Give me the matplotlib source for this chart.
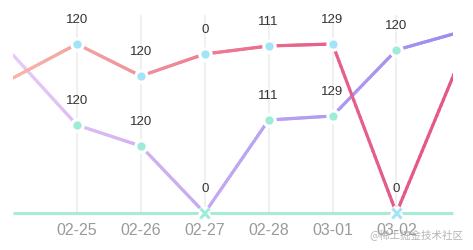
import numpy as np
import matplotlib
matplotlib.use("Agg")
import matplotlib.pyplot as plt
from matplotlib.collections import LineCollection
from matplotlib.colors import LinearSegmentedColormap
import matplotlib.patheffects as pe

# ---- data ----
categories = ["02-24", "02-25", "02-26", "02-27", "02-28", "03-01", "03-02", "03-03"]
pink_values = [135, 169, 137, 159, 167, 169, 0, 154]
purple_values = [158, 88, 67, 0, 93, 97, 163, 181]
pink_labels = [None, "120", "120", "0", "111", "129", "0", None]
purple_labels = [None, "120", "120", "0", "111", "129", "120", None]
shown_ticks = [1, 2, 3, 4, 5, 6]

W, H = 473, 250
fig = plt.figure(figsize=(W / 100, H / 100), dpi=100)
x0, x1 = 13, 453
ybot, ytop = 213, 15
ax = fig.add_axes([x0 / W, 1 - ybot / H, (x1 - x0) / W, (ybot - ytop) / H])
step = 63.9
ax.set_xlim(0, (x1 - x0) / step)
ax.set_ylim(0, 198)
for s in ax.spines.values():
    s.set_visible(False)
ax.set_yticks([])

xs = np.arange(len(categories))

# vertical grid lines
for i in shown_ticks:
    ax.plot([i, i], [0, 198], color="#eceeee", lw=1.2, zorder=0)

# axis line
ax.plot([0, (x1 - x0) / step], [0, 0], color="#a8ecd8", lw=2.2, zorder=1,
        solid_capstyle="butt", clip_on=False)


def grad_line(xv, yv, stops, z):
    cmap = LinearSegmentedColormap.from_list(
        "g", [((p - 0) / 7.0, c) for p, c in stops])
    segs = []
    cols = []
    for k in range(len(xv) - 1):
        n = 30
        tx = np.linspace(xv[k], xv[k + 1], n + 1)
        ty = np.linspace(yv[k], yv[k + 1], n + 1)
        for j in range(n):
            segs.append([(tx[j], ty[j]), (tx[j + 1], ty[j + 1])])
            cols.append(cmap(((tx[j] + tx[j + 1]) / 2) / 7.0))
    lc = LineCollection(segs, colors=cols, linewidths=2.3, zorder=z,
                        capstyle="round")
    ax.add_collection(lc)


purple_stops = [(0, "#e8caf6"), (2, "#d2b2f3"), (4, "#b8a2f2"), (7, "#9c8cf0")]
pink_stops = [(0, "#f8b6a8"), (3, "#ee7f95"), (4.5, "#e7638a"), (7, "#e4568a")]

grad_line(xs, purple_values, purple_stops, 2)
grad_line(xs, pink_values, pink_stops, 3)

white = [pe.withStroke(linewidth=5.5, foreground="white")]


def markers(vals, color, z):
    for i in range(1, 7):
        v = vals[i]
        if v == 0:
            ax.plot(i, v, marker="x", ms=6.5, mew=2.2, color=color, zorder=z,
                    path_effects=white, clip_on=False)
        else:
            ax.plot(i, v, marker="o", ms=8.2, mfc=color, mec="white", mew=2.2,
                    zorder=z, clip_on=False)


markers(purple_values, "#9eecd8", 4)
markers(pink_values, "#a2e3f8", 5)


def labels(vals, labs):
    for i, (v, t) in enumerate(zip(vals, labs)):
        if t is None:
            continue
        ax.annotate(t, (i, v), xytext=(0, 17.5), textcoords="offset points",
                    ha="center", va="center", fontsize=9.5, color="#333333",
                    family="Liberation Sans", zorder=6, annotation_clip=False)


labels(purple_values, purple_labels)
labels(pink_values, pink_labels)

ax.set_xticks(shown_ticks)
ax.set_xticklabels([categories[i] for i in shown_ticks], color="#9a9a9a",
                   fontsize=11.5, family="Liberation Sans")
ax.tick_params(axis="x", length=0, pad=7)

fig.text(463 / W, 1 - 236 / H, "@稀土掘金技术社区", ha="right", va="center",
         fontsize=7.6, color="#a8a8a8", alpha=0.85,
         family=["Noto Sans CJK SC", "DejaVu Sans"])

fig.savefig("out.png", dpi=100)
